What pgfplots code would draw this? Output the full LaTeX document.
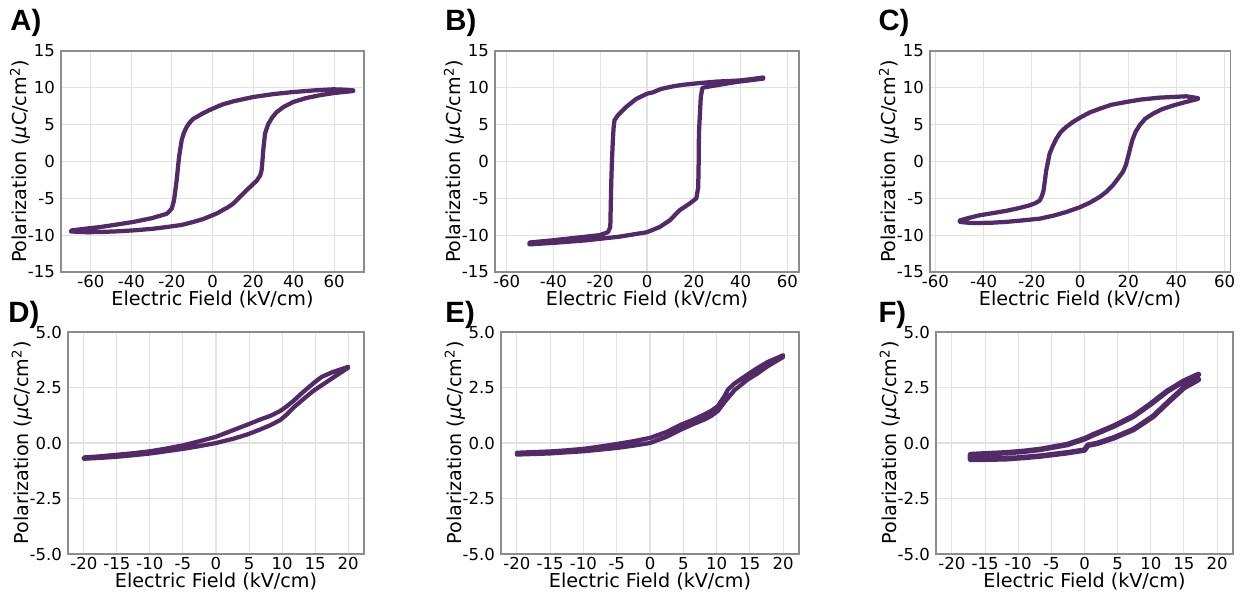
\documentclass[border=0pt]{standalone}
\usepackage{pgfplots}
\pgfplotsset{compat=1.18}
\usepackage{fontspec}
\setmainfont{DejaVu Sans}
\newfontfamily\letterfont{Liberation Sans}
\definecolor{loopc}{RGB}{82,42,104}
\definecolor{framec}{RGB}{140,140,140}
\definecolor{gridc}{RGB}{225,225,225}
\pgfplotsset{
  loopline/.style={draw=loopc, line width=0.085cm, line join=round, line cap=round, mark=none},
  panel/.style={
    scale only axis,
    anchor=south west,
    axis line style={draw=framec, line width=0.6pt},
    grid=major,
    major grid style={draw=gridc, line width=0.6pt},
    tick style={draw=none},
    ticklabel style={font=\fontsize{9.4}{11}\selectfont},
    xticklabel style={yshift=0.05cm},
    label style={font=\fontsize{10.9}{13}\selectfont},
    xlabel={Electric Field (kV/cm)},
    ylabel={Polarization ({\itshape μ}C/cm\textsuperscript{2})},
    xlabel shift=-0.18cm,
    ylabel shift=-0.3cm,
  },
  big/.style={panel, ymin=-15, ymax=15, height=4.42cm,
    xtick={-60,-40,-20,0,20,40,60}, xticklabels={-60,-40,-20,0,20,40,60},
    ytick={-15,-10,-5,0,5,10,15}, yticklabels={-15,-10,-5,0,5,10,15}},
  small/.style={panel, ymin=-5, ymax=5, xmin=-22.4, xmax=22.4, height=4.44cm,
    xtick={-20,-15,-10,-5,0,5,10,15,20}, xticklabels={-20,-15,-10,-5,0,5,10,15,20},
    ytick={-5,-2.5,0,2.5,5}, yticklabels={-5.0,-2.5,0.0,2.5,5.0}},
}
\newcommand{\panellabel}[3]{\node[anchor=base west, inner sep=0pt, font=\letterfont\bfseries\fontsize{16.7}{18}\selectfont] at ({#1*0.02},{(596-#2)*0.02}) {#3};}
\begin{document}
\begin{tikzpicture}
\useasboundingbox (0,0) rectangle (25.14,11.92);
% A
\begin{axis}[big, at={(1.22cm,6.48cm)}, width=6.06cm, xmin=-74.7, xmax=74.7]
\addplot[loopline] coordinates {(69.4,9.66) (65,9.75) (59.5,9.8) (50,9.65) (39.8,9.43) (30,9.15) (20,8.75) (10.3,8.17) (5,7.75) (0,7.17) (-4.7,6.55) (-9.4,5.8) (-11.2,5.3) (-12.7,4.7) (-14.1,3.9) (-15.2,2.9) (-16.5,0.6) (-17.7,-2.6) (-18.5,-4.3) (-19,-5.3) (-20.1,-6.4) (-21.8,-6.9) (-22.6,-7.1) (-30,-7.7) (-39,-8.2) (-47,-8.55) (-55.4,-8.9) (-62,-9.1) (-69.4,-9.35)
(-69.8,-9.5) (-62,-9.6) (-55.4,-9.57) (-47,-9.48) (-39,-9.35) (-30,-9.15) (-22.6,-8.9) (-15,-8.6) (-9.4,-8.2) (-4.5,-7.8) (0,-7.3) (2.5,-7.0) (5,-6.6) (7.7,-6.2) (10.3,-5.7) (13.5,-4.8) (16.8,-3.9) (19.5,-3.2) (21.8,-2.6) (23.5,-1.9) (24.2,-1.2) (24.6,0) (25,1.5) (25.9,3.8) (27.5,5.1) (29.5,6.0) (31.6,6.7) (35,7.4) (39.8,8.08) (46,8.6) (53,9.0) (60,9.3) (69.4,9.57)};
\end{axis}
% B
\begin{axis}[big, at={(9.90cm,6.48cm)}, width=6.08cm, xmin=-65, xmax=65]
\addplot[loopline] coordinates {(49.7,11.4) (45,11.2) (39.7,11.0) (30,10.85) (22.6,10.65) (15,10.4) (11.1,10.2) (6,9.85) (2.6,9.4) (0,9.2) (-4.6,8.5) (-8.9,7.4) (-12.4,6.3) (-13.9,5.6) (-14.3,4.5) (-14.6,2.9) (-15.0,0) (-15.3,-3.0) (-15.5,-6) (-15.7,-8.9) (-16.7,-9.6) (-20.3,-10.0) (-28.9,-10.3) (-40.3,-10.7) (-50.3,-11.0)
(-50.3,-11.25) (-40.3,-11.05) (-26,-10.7) (-11.7,-10.2) (0,-9.6) (5.4,-8.9) (9.7,-8.0) (14,-6.6) (18.3,-5.7) (21.1,-5.0) (21.9,-3.5) (22.1,0) (22.2,3.8) (23,8.76) (23.7,10.0) (26.9,10.2) (38.3,10.8) (49.7,11.25)};
\end{axis}
% C
\begin{axis}[big, at={(18.60cm,6.48cm)}, width=6.00cm, xmin=-62.2, xmax=62.2]
\addplot[loopline] coordinates {(48.9,8.6) (44.1,8.85) (33,8.67) (25,8.4) (19.2,8.08) (13,7.7) (8.2,7.17) (4,6.65) (0,5.95) (-3,5.35) (-5.7,4.7) (-8,4.0) (-9.8,3.1) (-11.3,2.1) (-12.6,1.06) (-14,-1.2) (-15.1,-3.9) (-15.8,-4.7) (-16.7,-5.3) (-18.5,-5.65) (-20.9,-5.95) (-25,-6.3) (-30.6,-6.7) (-36,-7.0) (-41.6,-7.3) (-46,-7.65) (-49.9,-8.0)
(-49.9,-8.2) (-45,-8.35) (-41.6,-8.35) (-36,-8.3) (-30.6,-8.2) (-24,-8.0) (-16.7,-7.76) (-11,-7.35) (-5.7,-6.86) (0,-6.2) (4,-5.6) (8.2,-4.8) (11,-4.1) (13.7,-3.2) (15.8,-2.3) (17.8,-1.4) (19.0,-0.5) (19.9,0.6) (20.8,1.8) (21.7,2.9) (23,4.0) (24.7,4.9) (27,5.8) (30.3,6.5) (34,7.1) (38.6,7.6) (43,8.0) (48.9,8.5)};
\end{axis}
% D
\begin{axis}[small, at={(1.36cm,0.84cm)}, width=5.92cm]
\addplot[loopline] coordinates {(20,3.43) (17.7,3.2) (16,2.98) (14.7,2.68) (13.2,2.3) (11.7,1.89) (10.7,1.65) (9.7,1.44) (8.2,1.22) (6.7,1.06) (4.7,0.82) (2.6,0.58) (0,0.28) (-2.5,0.08) (-4.9,-0.1) (-7.5,-0.25) (-9.9,-0.37) (-12.5,-0.46) (-15,-0.53) (-17.5,-0.6) (-20,-0.65)
(-20,-0.71) (-17.5,-0.67) (-15,-0.62) (-12.5,-0.55) (-9.9,-0.47) (-7.5,-0.37) (-4.9,-0.26) (-2.5,-0.14) (0,0) (2.6,0.19) (4.7,0.38) (6.7,0.61) (8.2,0.8) (9.7,1.03) (10.7,1.28) (11.7,1.59) (13.2,1.97) (14.7,2.34) (16,2.6) (17.7,2.94) (20,3.39)};
\end{axis}
% E
\begin{axis}[small, at={(10.02cm,0.84cm)}, width=5.96cm]
\addplot[loopline] coordinates {(20,3.95) (17.7,3.65) (16,3.35) (14.7,3.09) (12.7,2.68) (11.7,2.4) (11.2,2.11) (10.2,1.66) (9.2,1.45) (8.2,1.29) (6.5,1.05) (4.7,0.83) (2.5,0.5) (0,0.23) (-2.5,0.08) (-4.9,-0.04) (-7.5,-0.16) (-9.9,-0.26) (-12.5,-0.33) (-15,-0.38) (-20,-0.44)
(-20,-0.52) (-15,-0.47) (-12.5,-0.42) (-9.9,-0.37) (-7.5,-0.3) (-4.9,-0.22) (-2.5,-0.12) (0,0) (2.5,0.28) (4.7,0.61) (6.5,0.85) (8.2,1.06) (9.2,1.22) (10.2,1.44) (11.2,1.84) (12.7,2.38) (14.7,2.86) (16,3.1) (17.7,3.46) (20,3.87)};
\end{axis}
% F
\begin{axis}[small, at={(18.72cm,0.84cm)}, width=5.94cm]
\addplot[loopline, line width=0.11cm] coordinates {(17.2,3.09) (15,2.79) (12.5,2.34) (9.9,1.74) (7.4,1.21) (4.4,0.76) (1.4,0.38) (0,0.19) (-2.6,-0.07) (-6.7,-0.29) (-9,-0.37) (-11.7,-0.44) (-14.5,-0.48) (-17.2,-0.52)
(-17.2,-0.74) (-14.5,-0.73) (-11.7,-0.71) (-9,-0.65) (-6.7,-0.59) (-2.6,-0.44) (0,-0.32) (0.5,-0.1) (1.9,-0.02) (4.4,0.23) (7.4,0.61) (10.4,1.21) (12.5,1.81) (15,2.49) (17.2,2.86)};
\end{axis}
\panellabel{10}{31}{A)}
\panellabel{445}{31}{B)}
\panellabel{878}{31}{C)}
\panellabel{8}{323}{D)}
\panellabel{445}{323}{E)}
\panellabel{878}{323}{F)}
\end{tikzpicture}
\end{document}
